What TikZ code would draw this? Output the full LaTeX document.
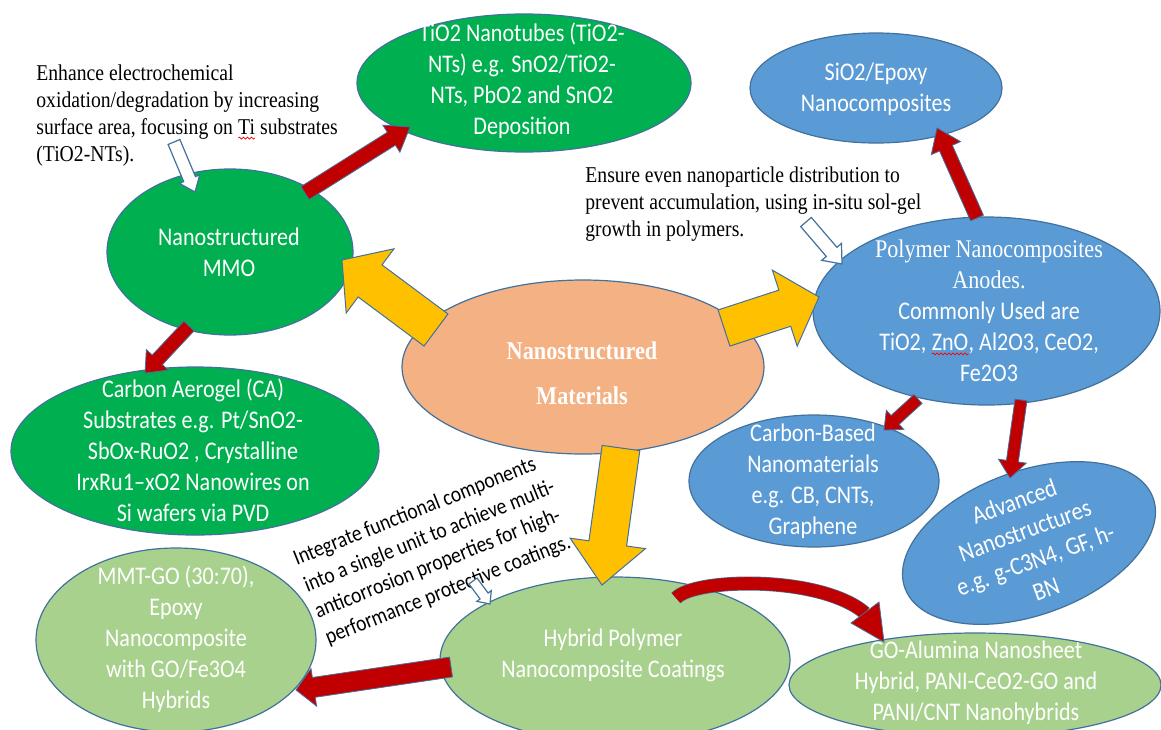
\documentclass[tikz,border=0pt]{standalone}
\usepackage{fontspec}
\setmainfont[FakeStretch=0.87]{Liberation Serif}
\newfontfamily\cbfont[FakeStretch=0.87]{Carlito}
\usetikzlibrary{shapes.geometric,calc,decorations.pathmorphing}
\definecolor{cgreen}{HTML}{00B050}
\definecolor{clgreen}{HTML}{A9D18E}
\definecolor{cblue}{HTML}{5B9BD5}
\definecolor{corange}{HTML}{F4B183}
\definecolor{cyellow}{HTML}{FFC000}
\definecolor{cred}{HTML}{C00000}
\definecolor{coutl}{HTML}{41719C}
\newcommand\squig[1]{\tikz[baseline=(sq.base)]{\node[inner sep=0pt,outer sep=0pt,anchor=base](sq){#1};\draw[red,line width=0.35pt,decorate,decoration={snake,amplitude=0.5pt,segment length=2pt}]([yshift=-1.6pt]sq.base west)--([yshift=-1.6pt]sq.base east);}}
\newcommand\blockarrow[6][]{%
\filldraw[#1] ($(#2)!#4!90:(#3)$) -- ($(#3)!#6!(#2)!#4!-90:(#2)$) -- ($(#3)!#6!(#2)!#5!-90:(#2)$) -- (#3) -- ($(#3)!#6!(#2)!#5!90:(#2)$) -- ($(#3)!#6!(#2)!#4!90:(#2)$) -- ($(#2)!#4!-90:(#3)$) -- cycle;}
\tikzset{
 ell/.style={ellipse, draw=coutl, line width=0.6pt, inner sep=0pt},
 etxt/.style={text=white, align=center, inner sep=0pt, font=\cbfont\fontsize{12.7}{15.5}\selectfont},
 ann/.style={text=black, align=left, inner sep=0pt, font=\fontsize{11.3}{13.5}\selectfont},
 redarr/.style={fill=cred, draw=coutl, line width=0.4pt},
 yelarr/.style={fill=cyellow, draw=coutl, line width=0.5pt},
 hollow/.style={fill=white, draw=coutl, line width=0.6pt},
}
\begin{document}
\begin{tikzpicture}[x=0.5pt,y=-0.5pt]
\path[use as bounding box] (0,0) rectangle (1161,729);
\clip (0,0) rectangle (1161,729);
\fill[white] (0,0) rectangle (1161,729);
% ellipses
\node[ell, fill=cgreen, minimum width=167pt, minimum height=69pt] (tio2) at (524,83) {};
\node[ell, fill=cblue, minimum width=126pt, minimum height=55pt] (sio2) at (876,88) {};
\node[ell, fill=cgreen, minimum width=123pt, minimum height=83pt] (mmo) at (230,252) {};
\node[ell, fill=corange, minimum width=181pt, minimum height=87pt] (nano) at (583,367) {};
\node[ell, fill=cblue, minimum width=173.5pt, minimum height=94pt] (poly) at (986.5,311) {};
\node[ell, fill=cgreen, minimum width=184pt, minimum height=84pt] (caer) at (195,451) {};
\node[ell, fill=cblue, minimum width=125pt, minimum height=66pt] (cbas) at (814,481) {};
\node[ell, fill=cblue, minimum width=132pt, minimum height=72pt, rotate=20] (adv) at (1029,543) {};
\node[ell, fill=clgreen, minimum width=140pt, minimum height=92pt] (mmt) at (176,640) {};
\node[ell, fill=clgreen, minimum width=175pt, minimum height=83pt] (hyb) at (615,660) {};
\node[ell, fill=clgreen, minimum width=186pt, minimum height=52pt] (goal) at (975,685) {};
% texts
\node[etxt] (tio2t) at (522,81) {TiO2 Nanotubes (TiO2-\\NTs) e.g. SnO2/TiO2-\\NTs, PbO2 and SnO2\\Deposition};
\node[etxt] (sio2t) at (876,89) {SiO2/Epoxy\\Nanocomposites};
\node[etxt] (mmot) at (229,252) {Nanostructured\\MMO};
\node[etxt, font=\bfseries\fontsize{12.8}{22.5}\selectfont] (nanot) at (582,373) {Nanostructured\\Materials};
\node[etxt] (polyt) at (989,311) {{\rmfamily Polymer Nanocomposites}\\{\rmfamily Anodes.}\\Commonly Used are\\TiO2, \squig{ZnO}, Al2O3, CeO2,\\Fe2O3};
\node[etxt] (caert) at (193,450) {Carbon Aerogel (CA)\\Substrates e.g. Pt/SnO2-\\SbOx-RuO2 , Crystalline\\IrxRu1–xO2 Nanowires on\\Si wafers via PVD};
\node[etxt] (cbast) at (813,481) {Carbon-Based\\Nanomaterials\\e.g. CB, CNTs,\\Graphene};
\node[etxt, rotate=20] (advt) at (1030,545) {Advanced\\Nanostructures\\e.g. g-C3N4, GF, h-\\BN};
\node[etxt] (mmtt) at (176,639) {MMT-GO (30:70),\\Epoxy\\Nanocomposite\\with GO/Fe3O4\\Hybrids};
\node[etxt] (hybt) at (613,655) {Hybrid Polymer\\Nanocomposite Coatings};
\node[etxt] (goalt) at (976,683) {GO-Alumina Nanosheet\\Hybrid, PANI-CeO2-GO and\\PANI/CNT Nanohybrids};
% annotations
\node[ann, anchor=west] (ann1) at (36,116) {Enhance electrochemical\\oxidation/degradation by increasing\\surface area, focusing on \squig{Ti} substrates\\(TiO2-NTs).};
\node[ann, anchor=west] (ann2) at (585,204) {Ensure even nanoparticle distribution to\\prevent accumulation, using in-situ sol-gel\\growth in polymers.};
\node[ann, font=\cbfont\fontsize{11.2}{14.2}\selectfont, rotate=21.8] (ann3) at (435,550) {Integrate functional components\\into a single unit to achieve multi-\\anticorrosion properties for high-\\performance protective coatings.};
% arrow end points
\coordinate (h1a) at (174,142); \coordinate (h1b) at (195,192);
\coordinate (h2a) at (806,222); \coordinate (h2b) at (842,264);
\coordinate (h3a) at (473,581); \coordinate (h3b) at (490,604);
\coordinate (r1a) at (305,193); \coordinate (r1b) at (410,127);
\coordinate (r2a) at (189,326); \coordinate (r2b) at (145,373);
\coordinate (r3a) at (977,218); \coordinate (r3b) at (937,128);
\coordinate (r4a) at (918,399); \coordinate (r4b) at (884,430);
\coordinate (r5a) at (1021,400); \coordinate (r5b) at (1010,478);
\coordinate (r6a) at (451,667); \coordinate (r6b) at (296,690);
\coordinate (y1a) at (436,330); \coordinate (y1b) at (342,260);
\coordinate (y2a) at (724,328); \coordinate (y2b) at (819,297);
\coordinate (y3a) at (621,448); \coordinate (y3b) at (602,585);
\coordinate (c1a) at (676,598); \coordinate (c1p) at (695,578);
\coordinate (c1q) at (820,575); \coordinate (c1b) at (865,613);
\coordinate (c1l) at (851,623); \coordinate (c1r) at (879,602); \coordinate (c1t) at (884,642);
% hollow arrows
\blockarrow[hollow]{h1a}{h1b}{3.2pt}{5.5pt}{7pt}
\blockarrow[hollow]{h2a}{h2b}{3.5pt}{6.5pt}{8pt}
\blockarrow[hollow]{h3a}{h3b}{2.5pt}{4.5pt}{5pt}
% red arrows
\blockarrow[redarr]{r1a}{r1b}{3.8pt}{8pt}{11pt}
\blockarrow[redarr]{r2a}{r2b}{3.5pt}{7.5pt}{9pt}
\blockarrow[redarr]{r3a}{r3b}{3.5pt}{8pt}{11pt}
\blockarrow[redarr]{r4a}{r4b}{3pt}{6.5pt}{7.5pt}
\blockarrow[redarr]{r5a}{r5b}{3pt}{7pt}{8.5pt}
\blockarrow[redarr]{r6a}{r6b}{5pt}{9.5pt}{9pt}
% yellow arrows
\blockarrow[yelarr]{y1a}{y1b}{10pt}{20pt}{17.5pt}
\blockarrow[yelarr]{y2a}{y2b}{9.5pt}{20pt}{18pt}
\blockarrow[yelarr]{y3a}{y3b}{9.5pt}{19pt}{21pt}
% curved arrow
\draw[coutl, line width=7pt] (c1a) .. controls (c1p) and (c1q) .. (c1b);
\draw[cred, line width=6.3pt] (c1a) .. controls (c1p) and (c1q) .. (c1b);
\filldraw[redarr] (c1l) -- (c1t) -- (c1r) -- cycle;
\end{tikzpicture}
\end{document}
